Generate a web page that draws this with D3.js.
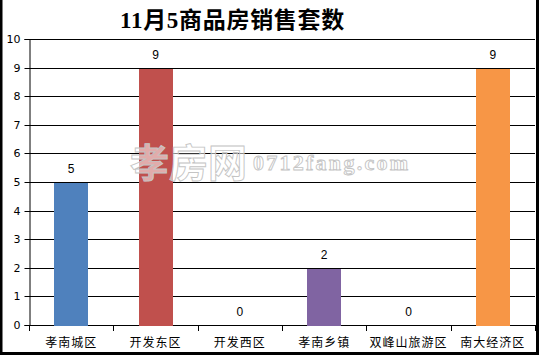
<!DOCTYPE html>
<html>
<head>
<meta charset="utf-8">
<script src="https://cdn.jsdelivr.net/npm/d3@7"></script>
<style>
  body { margin: 0; background: #fff; }
  svg { display: block; }
  .tick text { font-family: "DejaVu Sans", sans-serif; font-size: 11px; fill: #000; }
  .xlbl { font-family: "Noto Sans CJK SC", sans-serif; font-size: 12px; letter-spacing: 1px; }
</style>
</head>
<body>
<svg id="chart"></svg>
<script>
// ── Data ────────────────────────────────────────────────────────────────────
const TITLE = "11月5商品房销售套数";
const CATEGORIES = ["孝南城区", "开发东区", "开发西区", "孝南乡镇", "双峰山旅游区", "南大经济区"];
const VALUES = [5, 9, 0, 2, 0, 9];
const COLORS = ["#4F81BD", "#C0504D", "#9BBB59", "#8064A2", "#4BACC6", "#F79646"];
const Y_TICKS = [0, 1, 2, 3, 4, 5, 6, 7, 8, 9, 10];

const VW = 539, VH = 357;
const M = { top: 39, right: 4, bottom: 32, left: 29 };
const W = VW - M.left - M.right;
const H = VH - M.top - M.bottom;

const svg = d3.select("#chart").attr("width", VW).attr("height", VH);

// Outer frame (left, bottom, right)
svg.append("path")
  .attr("d", `M1,0 V353.5 H537.5 V0`)
  .attr("fill", "none").attr("stroke", "#000").attr("stroke-width", 3);

const g = svg.append("g").attr("transform", `translate(${M.left},${M.top})`);

const x = d3.scaleBand().domain(CATEGORIES).range([0, W]).paddingInner(0.6).paddingOuter(0.3);
const y = d3.scaleLinear().domain([0, 10]).range([H, 0]);

// Grid
g.append("g").selectAll("line")
  .data(Y_TICKS)
  .join("line")
  .attr("x1", 0).attr("x2", W)
  .attr("y1", d => Math.round(y(d)) + 0.5).attr("y2", d => Math.round(y(d)) + 0.5)
  .attr("stroke", "#000").attr("shape-rendering", "crispEdges");

// Y axis
const yAx = g.append("g").attr("transform", "translate(0.5,0)")
  .call(d3.axisLeft(y).tickValues(Y_TICKS).tickSize(5).tickPadding(4));
yAx.select(".domain").attr("stroke", "#000");
yAx.selectAll(".tick line").attr("stroke", "#000");
yAx.selectAll(".tick").attr("transform", d => `translate(0,${Math.round(y(d)) + 0.5})`);

// X axis ticks at category boundaries
const step = x.step();
g.append("g").selectAll("line")
  .data(d3.range(CATEGORIES.length + 1))
  .join("line")
  .attr("x1", i => Math.round(i * step) + 0.5).attr("x2", i => Math.round(i * step) + 0.5)
  .attr("y1", H).attr("y2", H + 6)
  .attr("stroke", "#000").attr("shape-rendering", "crispEdges");

// Bars
const data = CATEGORIES.map((c, i) => ({ c, v: VALUES[i], color: COLORS[i] }));
g.append("g").selectAll("rect")
  .data(data.filter(d => d.v > 0))
  .join("rect")
  .attr("x", d => Math.round(x(d.c))).attr("width", Math.round(x.bandwidth()))
  .attr("y", d => Math.round(y(d.v)) + 1).attr("height", d => Math.round(y(0)) - Math.round(y(d.v)))
  .attr("fill", d => d.color);

// Value labels
g.append("g").selectAll("text")
  .data(data)
  .join("text")
  .attr("x", d => x(d.c) + x.bandwidth() / 2)
  .attr("y", d => y(d.v) - 9)
  .attr("text-anchor", "middle")
  .style("font-family", "Liberation Sans, sans-serif").style("font-size", "12px")
  .text(d => d.v);

// Category labels
g.append("g").selectAll("text")
  .data(CATEGORIES)
  .join("text")
  .attr("class", "xlbl")
  .attr("x", d => x(d) + x.bandwidth() / 2)
  .attr("y", H + 22)
  .attr("text-anchor", "middle")
  .text(d => d);

// Watermark (hollow outlined text)
const wm = svg.append("g");
wm.append("text")
  .attr("x", 130).attr("y", 177)
  .style("font-family", "Noto Sans CJK SC, sans-serif").style("font-size", "39px").style("font-weight", "bold")
  .attr("fill", "#fff").attr("fill-opacity", 0.55).attr("stroke", "#c4c4c4").attr("stroke-width", 0.9)
  .text("孝房网");
wm.append("text")
  .attr("x", 253).attr("y", 170)
  .style("font-family", "Liberation Serif, serif").style("font-size", "22px").style("font-weight", "bold")
  .attr("fill", "#fff").attr("fill-opacity", 0.55).attr("stroke", "#c4c4c4").attr("stroke-width", 0.9)
  .attr("textLength", 155)
  .text("0712fang.com");

// Title
svg.append("text")
  .attr("x", 120).attr("y", 28)
  .style("font-family", "Liberation Serif, Noto Sans CJK SC, serif")
  .style("font-size", "23px").style("font-weight", "bold").style("letter-spacing", "0.7px")
  .text(TITLE);
</script>
</body>
</html>
